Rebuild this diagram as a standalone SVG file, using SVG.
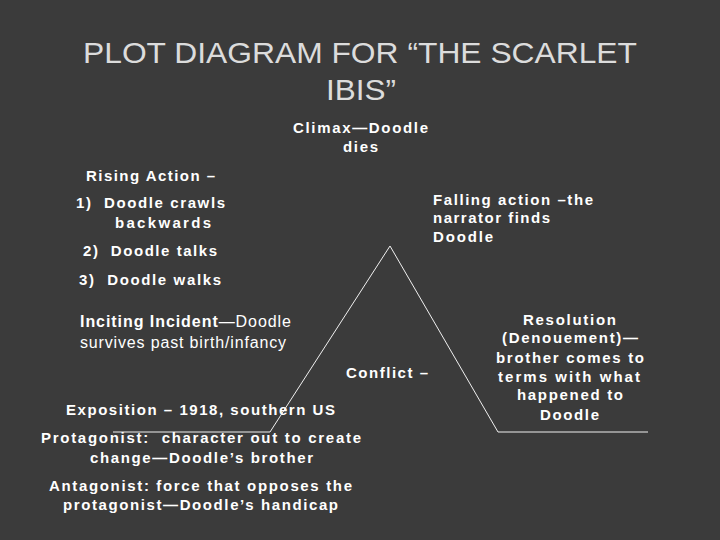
<svg xmlns="http://www.w3.org/2000/svg" width="720" height="540" viewBox="0 0 720 540">
<style>
.t{font-family:"Liberation Sans",Arial,sans-serif;fill:#ffffff;font-size:15px;font-weight:bold}
.n{font-weight:normal;font-size:16px}
.title{font-family:"Liberation Sans",Arial,sans-serif;fill:#dcdcdc;font-size:30px}
.ln{stroke:#f0f0f0;stroke-width:1;fill:none}
</style>
<rect width="720" height="540" fill="#3b3b3b"/>
<g id="title">
<text class="title" x="83" y="63" textLength="554" lengthAdjust="spacingAndGlyphs">PLOT DIAGRAM FOR “THE SCARLET</text>
<text class="title" x="326" y="100" textLength="70" lengthAdjust="spacingAndGlyphs">IBIS”</text>
</g>
<g id="connectors">
<polyline class="ln" points="113,432 270,432 390,246 498,432 648,432"/>
</g>
<g id="climax">
<text class="t" x="293" y="133" textLength="135" lengthAdjust="spacing">Climax—Doodle</text>
<text class="t" x="343" y="152" textLength="35" lengthAdjust="spacing">dies</text>
</g>
<g id="rising-action">
<text class="t" x="86" y="181" textLength="129" lengthAdjust="spacing">Rising Action –</text>
<text class="t" xml:space="preserve" x="76" y="208" textLength="149" lengthAdjust="spacing">1)  Doodle crawls</text>
<text class="t" x="115" y="228" textLength="96" lengthAdjust="spacing">backwards</text>
<text class="t" xml:space="preserve" x="83" y="256" textLength="134" lengthAdjust="spacing">2)  Doodle talks</text>
<text class="t" xml:space="preserve" x="79" y="285" textLength="142" lengthAdjust="spacing">3)  Doodle walks</text>
</g>
<g id="falling-action">
<text class="t" x="433" y="205" textLength="160" lengthAdjust="spacing">Falling action –the</text>
<text class="t" x="433" y="223" textLength="117" lengthAdjust="spacing">narrator finds</text>
<text class="t" x="433" y="242" textLength="60" lengthAdjust="spacing">Doodle</text>
</g>
<g id="inciting-incident">
<text class="t n" x="80" y="327" textLength="211" lengthAdjust="spacing"><tspan font-weight="bold">Inciting Incident</tspan>—Doodle</text>
<text class="t n" x="80" y="348" textLength="206" lengthAdjust="spacing">survives past birth/infancy</text>
</g>
<g id="conflict">
<text class="t" x="346" y="378" textLength="82" lengthAdjust="spacing">Conflict –</text>
</g>
<g id="resolution">
<text class="t" x="523" y="325" textLength="93" lengthAdjust="spacing">Resolution</text>
<text class="t" x="502" y="343" textLength="136" lengthAdjust="spacing">(Denouement)—</text>
<text class="t" x="496" y="363" textLength="148" lengthAdjust="spacing">brother comes to</text>
<text class="t" x="498" y="382" textLength="142" lengthAdjust="spacing">terms with what</text>
<text class="t" x="517" y="400" textLength="106" lengthAdjust="spacing">happened to</text>
<text class="t" x="540" y="420" textLength="59" lengthAdjust="spacing">Doodle</text>
</g>
<g id="exposition">
<text class="t" x="66" y="415" textLength="269" lengthAdjust="spacing">Exposition – 1918, southern US</text>
<text class="t" xml:space="preserve" x="41" y="443" textLength="320" lengthAdjust="spacing">Protagonist:  character out to create</text>
<text class="t" x="90" y="463" textLength="223" lengthAdjust="spacing">change—Doodle’s brother</text>
<text class="t" x="49" y="491" textLength="303" lengthAdjust="spacing">Antagonist: force that opposes the</text>
<text class="t" x="63" y="510" textLength="275" lengthAdjust="spacing">protagonist—Doodle’s handicap</text>
</g>
</svg>
